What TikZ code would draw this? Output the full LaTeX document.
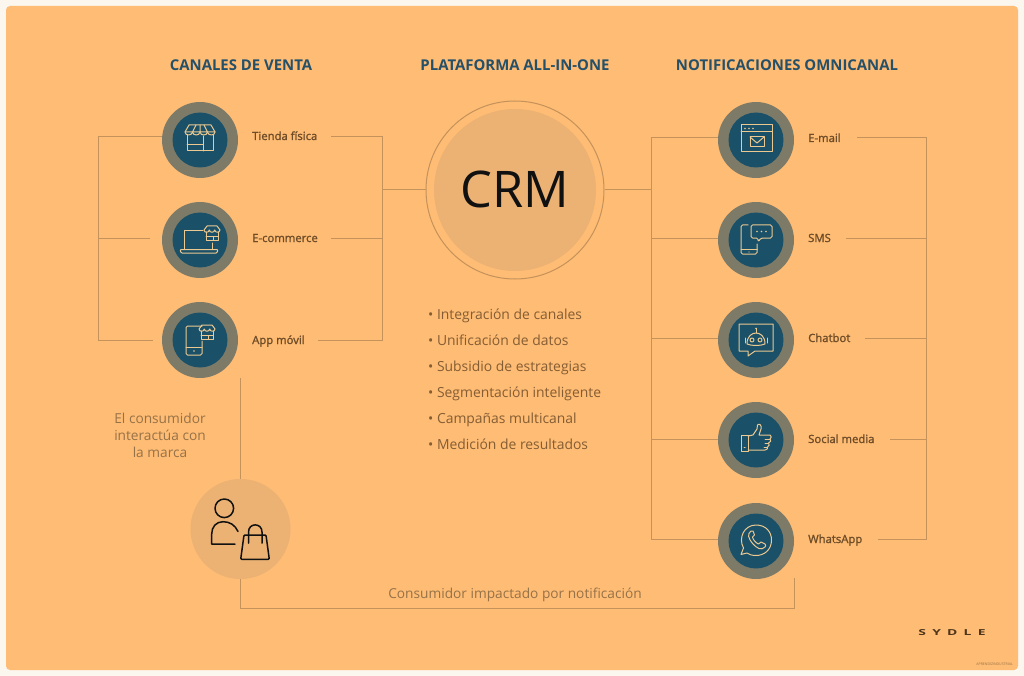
\documentclass[tikz,border=0pt]{standalone}
\usepackage{fontspec}
\setmainfont{Open Sans}
\newfontfamily\semifont[FakeBold=1.5]{Open Sans}
\definecolor{pagebg}{HTML}{FBF6EE}
\definecolor{panel}{HTML}{FFBC74}
\definecolor{ring}{HTML}{7D7B67}
\definecolor{core}{HTML}{1B5069}
\definecolor{wire}{HTML}{C4925A}
\definecolor{icon}{HTML}{EBC990}
\definecolor{title}{HTML}{24506A}
\definecolor{lab}{HTML}{6E4C28}
\definecolor{soft}{HTML}{967248}
\definecolor{disc}{HTML}{EBB273}
\definecolor{dark}{HTML}{111111}
\tikzset{
  x=1pt,y=-1pt,
  wireline/.style={draw=wire,line width=1pt},
  iconline/.style={draw=icon,line width=1pt,line join=round,line cap=round},
  ringnode/.style={circle,fill=ring,draw=none,minimum size=76pt,inner sep=0pt},
  corenode/.style={circle,fill=core,draw=none,minimum size=55pt,inner sep=0pt},
  labelnode/.style={anchor=base west,inner sep=0pt,text=lab,font=\fontsize{11.3}{13}\selectfont\semifont},
  headnode/.style={anchor=base,inner sep=0pt,text=title,font=\fontsize{14.9}{17}\selectfont\bfseries},
  listnode/.style={anchor=base west,inner sep=0pt,text=lab!85!panel,font=\fontsize{13.9}{16}\selectfont},
  softnode/.style={inner sep=0pt,text=soft,font=\fontsize{13.7}{17}\selectfont,align=center},
  person/.style={draw=dark,line width=1.5pt,line join=round,line cap=round}
}
\newcommand{\shopicon}{%
  \draw[iconline] (-13,-4) -- (-13,12) -- (13,12) -- (13,-4);
  \draw[iconline] (-13,6) -- (3,6) (3,-3) -- (3,12);
  \draw[iconline] (-11,-14) -- (11,-14) -- (15,-7)
     .. controls (15,-3) and (8,-3) .. (7.5,-7)
     .. controls (7,-3) and (0.5,-3) .. (0,-7)
     .. controls (-0.5,-3) and (-7,-3) .. (-7.5,-7)
     .. controls (-8,-3) and (-15,-3) .. (-15,-7) -- cycle;
  \draw[iconline] (-15,-7) -- (15,-7) (-4,-14) -- (-7.5,-7) (4,-14) -- (7.5,-7) (0,-14) -- (0,-7);
}
\newcommand{\smallshop}{%
  \draw[iconline] (-6,-2) -- (-6,6.5) -- (6,6.5) -- (6,-2);
  \draw[iconline] (-6,2.5) -- (6,2.5) (1.5,2.5) -- (1.5,6.5);
  \draw[iconline] (-5,-8) -- (5,-8) -- (8,-4)
     .. controls (8,-1) and (3,-1) .. (2.7,-4)
     .. controls (2.4,-1) and (-2.4,-1) .. (-2.7,-4)
     .. controls (-3,-1) and (-8,-1) .. (-8,-4) -- cycle;
}
\begin{document}
\begin{tikzpicture}
\useasboundingbox (0,0) rectangle (1024,676);
\fill[pagebg] (0,0) rectangle (1024,676);
\fill[panel,rounded corners=4pt] (6,6) rectangle (1018,670);

% named junctions
\coordinate (lbusT) at (98.5,136.5);
\coordinate (lbusM) at (98.5,238.5);
\coordinate (lbusB) at (98.5,340.5);
\coordinate (lstubM) at (150,238.5);
\coordinate (lstubB) at (153,340.5);
\coordinate (mbusT) at (382.5,136.5);
\coordinate (mbusC) at (382.5,190);
\coordinate (mbusM) at (382.5,238.5);
\coordinate (mbusB) at (382.5,340.5);
\coordinate (rbusT) at (651.5,137.5);
\coordinate (rbusC) at (651.5,190);
\coordinate (rbusS) at (651.5,238.5);
\coordinate (rbusH) at (651.5,338.5);
\coordinate (rbusM) at (651.5,439.5);
\coordinate (rbusB) at (651.5,539.5);
\coordinate (fbusT) at (926.5,137.5);
\coordinate (fbusS) at (926.5,238.5);
\coordinate (fbusH) at (926.5,338.5);
\coordinate (fbusM) at (926.5,439.5);
\coordinate (fbusB) at (926.5,539.5);
\coordinate (ostartE) at (331,136.5);
\coordinate (ostartC) at (331,238.5);
\coordinate (ostartA) at (318,340.5);
\coordinate (estartE) at (857,137.5);
\coordinate (estartS) at (846,238.5);
\coordinate (estartH) at (865,338.5);
\coordinate (estartM) at (890,439.5);
\coordinate (estartW) at (878,539.5);
\coordinate (apptop) at (240.5,378);
\coordinate (botL) at (240.5,608.5);
\coordinate (botR) at (794.5,608.5);
\coordinate (botT) at (794.5,578);

% CRM
\node[circle,draw=wire,line width=1pt,minimum size=178pt,inner sep=0pt] (crmring) at (515,190) {};
\node[circle,fill=disc,minimum size=162pt,inner sep=0pt] (crm) at (515,190) {};
\node[anchor=base,inner sep=0pt,font=\fontsize{50.5}{56}\selectfont,text=dark] (crmtext) at (515,208) {CRM};

% circles
\foreach \n/\cx/\cy in {tienda/200/140,ecom/200/240,app/200/340,mail/756/140,sms/756/240,chat/756/340,social/756/440,wa/756/541}{
  \node[ringnode] (\n) at (\cx,\cy) {};
  \node[corenode] (\n c) at (\cx,\cy) {};
}
\node[circle,fill=disc,minimum size=100pt,inner sep=0pt] (buyer) at (240.5,529) {};

% connectors left
\draw[wireline] (tienda.west |- lbusT) -- (lbusT) -- (lbusB) -- (lstubB);
\draw[wireline] (lbusM) -- (lstubM);
\draw[wireline] (ostartE) -- (mbusT) -- (mbusB) -- (ostartA);
\draw[wireline] (ostartC) -- (mbusM);
\draw[wireline] (mbusC) -- (crmring.west);
% connectors right
\draw[wireline] (crmring.east) -- (rbusC);
\draw[wireline] (mail.west |- rbusT) -- (rbusT) -- (rbusB) -- (wa.west |- rbusB);
\draw[wireline] (rbusS) -- (sms.west |- rbusS);
\draw[wireline] (rbusH) -- (chat.west |- rbusH);
\draw[wireline] (rbusM) -- (social.west |- rbusM);
\draw[wireline] (estartE) -- (fbusT) -- (fbusB) -- (estartW);
\draw[wireline] (estartS) -- (fbusS);
\draw[wireline] (estartH) -- (fbusH);
\draw[wireline] (estartM) -- (fbusM);
% consumer loop
\draw[wireline] (apptop) -- (buyer.north);
\draw[wireline] (buyer.south) -- (botL) -- (botR) -- (botT);

% headings
\node[headnode] (h1) at (241,71) {CANALES DE VENTA};
\node[headnode] (h2) at (515,71) {PLATAFORMA ALL-IN-ONE};
\node[headnode] (h3) at (787,71) {NOTIFICACIONES OMNICANAL};

% labels
\node[labelnode] (l1) at (252,140) {Tienda física};
\node[labelnode] (l2) at (252,242) {E-commerce};
\node[labelnode] (l3) at (252,344) {App móvil};
\node[labelnode] (l4) at (808,142) {E-mail};
\node[labelnode] (l5) at (808,242) {SMS};
\node[labelnode] (l6) at (808,342) {Chatbot};
\node[labelnode] (l7) at (808,443) {Social media};
\node[labelnode] (l8) at (808,543) {WhatsApp};

% list
\node[listnode] (b1) at (428,319) {• Integración de canales};
\node[listnode] (b2) at (428,345) {• Unificación de datos};
\node[listnode] (b3) at (428,371) {• Subsidio de estrategias};
\node[listnode] (b4) at (428,397) {• Segmentación inteligente};
\node[listnode] (b5) at (428,423) {• Campañas multicanal};
\node[listnode] (b6) at (428,449) {• Medición de resultados};

\node[softnode] (t1) at (160,435) {El consumidor\\interactúa con\\la marca};
\node[softnode,anchor=base] (t2) at (515,598) {Consumidor impactado por notificación};

% logo
\node[inner sep=0pt,text=lab!70!black] (logo) at (952,633) {\scalebox{1.85}[1.1]{\fontsize{7.5}{8}\selectfont\bfseries\addfontfeature{LetterSpace=45}SYDLE}};
\node[inner sep=0pt,text=soft,anchor=east] (small) at (1013,664) {\fontsize{3.5}{4}\selectfont APRENDIZINDUSTRIAL};

% icon: store
\begin{scope}[shift={(200,139)}]
\shopicon
\end{scope}
% icon: laptop + store
\begin{scope}[shift={(200,240)}]
\draw[iconline] (3,-9) -- (-16,-9) -- (-16,9);
\draw[iconline,rounded corners=1pt] (-20,9.5) -- (18,9.5) -- (17,13) -- (-19,13) -- cycle;
\draw[iconline] (12,3) -- (12,9.5);
\begin{scope}[shift={(12,-6)}]\smallshop\end{scope}
\end{scope}
% icon: phone + store
\begin{scope}[shift={(200,340)}]
\draw[iconline,rounded corners=1.5pt] (2,-14) -- (-14,-14) -- (-14,15) -- (2,15) -- (2,1);
\draw[iconline] (-14,7) -- (2,7);
\fill[icon] (-6,11) circle (0.8);
\begin{scope}[shift={(7,-7)}]\smallshop\end{scope}
\end{scope}
% icon: e-mail
\begin{scope}[shift={(756,140)}]
\draw[iconline] (-15,-15) rectangle (16,12);
\draw[iconline] (-15,-8.5) -- (16,-8.5);
\foreach \d in {-11,-7,-3}{\fill[icon] (\d,-11.5) circle (0.8);}
\draw[iconline] (-6,-3) rectangle (8,7);
\draw[iconline] (-6,-3) -- (1,3) -- (8,-3);
\end{scope}
% icon: sms
\begin{scope}[shift={(756,240)}]
\draw[iconline,rounded corners=1.5pt] (-8,-15) -- (-15,-15) -- (-15,14) -- (1,14) -- (1,4);
\draw[iconline] (-15,9) -- (1,9);
\fill[icon] (-7,12) circle (0.7);
\draw[iconline,rounded corners=1.5pt] (-5,-15) -- (16,-15) -- (16,-2) -- (5,-2) -- (2,2) -- (2,-2) -- (-5,-2) -- cycle;
\foreach \d in {1,5.5,10}{\fill[icon] (\d,-8.5) circle (0.8);}
\end{scope}
% icon: chatbot
\begin{scope}[shift={(756,340)}]
\draw[iconline] (-17,-16) -- (17,-16) -- (17,11) -- (-1,11) -- (-8,16) -- (-8,11) -- (-17,11) -- cycle;
\draw[iconline] (-9,4) .. controls (-9,-4) and (-4,-7) .. (0,-7) .. controls (4,-7) and (9,-4) .. (9,4) .. controls (5,6) and (-5,6) .. (-9,4) -- cycle;
\draw[iconline] (0,-7) -- (0,-11);
\fill[icon] (0,-11.5) circle (1);
\draw[iconline] (-4,0) circle (2) (4,0) circle (2);
\draw[iconline] (-11,-2) -- (-11,3) (11,-2) -- (11,3);
\end{scope}
% icon: thumb
\begin{scope}[shift={(756,440)}]
\draw[iconline] (-15,-5) rectangle (-8,11);
\draw[iconline] (-12,7.5) -- (-11,7.5);
\draw[iconline] (-8,-4) -- (-3,-5) -- (1,-11) -- (1.5,-15) .. controls (3,-17) and (6,-15) .. (5,-11) -- (3,-5) -- (14,-5)
  .. controls (16,-4.5) and (15.5,-1.5) .. (14,-1) .. controls (15.5,0) and (15,2.5) .. (12.5,3)
  .. controls (14,4) and (13,6.5) .. (11.5,7) .. controls (12,8.5) and (11,10) .. (9,10) -- (-8,10);
\draw[iconline] (14,-1) -- (9,-1) (12.5,3) -- (9,3) (11.5,7) -- (8,7);
\end{scope}
% icon: whatsapp
\begin{scope}[shift={(756,541)}]
\draw[iconline] (-12.5,7) .. controls (-18,-3) and (-12,-16) .. (0,-16)
   .. controls (10,-16) and (15.5,-9) .. (15.5,-1)
   .. controls (15.5,9) and (8,14.5) .. (0,14.5)
   .. controls (-4,14.5) and (-7,13.5) .. (-9,12) -- (-15,13.5) -- cycle;
\draw[iconline] (-5,-10) .. controls (-9,-7) and (-8,-3) .. (-3,3) .. controls (1,7) and (5,10) .. (9,6)
   .. controls (10,5) and (10,4) .. (9,3) -- (5,1) -- (2.5,3) .. controls (0,2) and (-3,-1) .. (-3.5,-4) -- (-1.5,-6) -- (-3,-10) .. controls (-3.5,-10.5) and (-4.5,-10.5) .. (-5,-10) -- cycle;
\end{scope}

% consumer icon
\draw[person] (224.3,508.3) circle (9.3);
\draw[person] (235,544) -- (211.7,544) -- (211.7,534) .. controls (211.7,527) and (216,521.7) .. (223,521.7) .. controls (230,521.7) and (235,525) .. (238,531.5);
\draw[person,rounded corners=1pt] (244,535) -- (266,535) -- (269.3,559.3) -- (240.7,559.3) -- cycle;
\draw[person] (248.5,543) -- (248.5,532) .. controls (248.5,522.5) and (262,522.5) .. (262,532) -- (262,543);
\end{tikzpicture}
\end{document}
